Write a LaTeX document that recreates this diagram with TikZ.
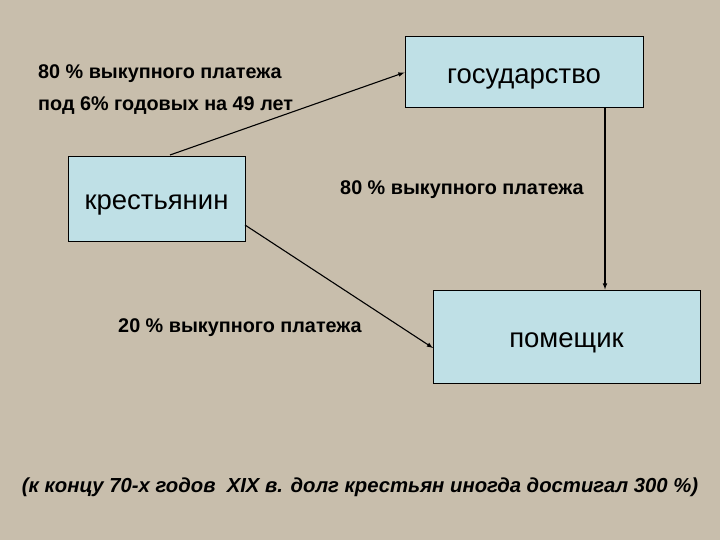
\documentclass[tikz,border=0pt]{standalone}
\usepackage{fontspec}
\setmainfont{Liberation Sans}
\definecolor{bg}{RGB}{200,190,172}
\definecolor{boxc}{RGB}{191,224,230}
\newcommand{\boxtxt}[1]{\raisebox{-11pt}[0pt][0pt]{#1}}
\begin{document}
\begin{tikzpicture}[x=1pt,y=-1pt,
  box/.style={draw=black,fill=boxc,line width=1pt,inner sep=0pt,font=\fontsize{27.5}{30}\selectfont},
  lab/.style={font=\bfseries\fontsize{19.8}{22}\selectfont,inner sep=0pt,anchor=west},
  arr/.style={-latex,line width=1.1pt}]
\fill[bg] (0,0) rectangle (720,540);
\useasboundingbox (0,0) rectangle (720,540);
\node[box,minimum width=238pt,minimum height=71pt] (g) at (524,72.5) {\boxtxt{государство}};
\node[box,minimum width=177pt,minimum height=84pt] (k) at (156.5,199) {\boxtxt{крестьянин}};
\node[box,minimum width=267pt,minimum height=93pt] (p) at (566.5,336.5) {\boxtxt{помещик}};
\node[lab] (l1) at (38,74) {80 \% выкупного платежа};
\node[lab] (l2) at (38,106) {под 6\% годовых на 49 лет};
\node[lab,anchor=center] (l3) at (462,190) {80 \% выкупного платежа};
\node[lab,anchor=center] (l4) at (240,328) {20 \% выкупного платежа};
\node[font=\bfseries\itshape\fontsize{20.3}{24}\selectfont,inner sep=0pt] (b) at (360,487) {(к концу 70-х годов\ \ XIX в. долг крестьян иногда достигал 300 \%)};
\coordinate (s1) at (170,155);
\draw[arr] (s1) -- (g.west);
\draw[arr] ([xshift=81pt]g.south) -- ([xshift=38.5pt]p.north);
\coordinate (s3) at (245,225);
\coordinate (e3) at (433,348);
\draw[arr] (s3) -- (e3);
\end{tikzpicture}
\end{document}
